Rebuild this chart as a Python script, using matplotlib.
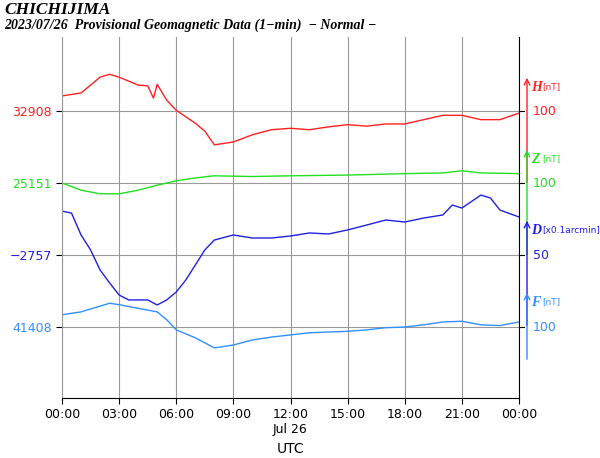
import matplotlib
matplotlib.use("Agg")
import matplotlib.pyplot as plt
import numpy as np

hours_H = [0,1,2,2.5,3,4,4.5,4.8,5,5.5,6,7,7.5,8,9,10,11,12,13,14,15,16,17,18,19,20,21,22,23,24]
H = [32929,32933,32955,32959,32955,32944,32943,32926,32945,32923,32909,32891,32880,32861,32865,32875,32882,32884,32882,32886,32889,32887,32890,32890,32896,32902,32902,32896,32896,32905]
hours_Z = [0,1,2,3,4,5,6,7,8,10,12,15,18,20,21,22,24]
Z = [25151,25141,25136,25136,25141,25148,25154,25158,25161,25160,25161,25162,25164,25165,25168,25165,25164]
hours_D = [0,0.5,1,1.5,2,2.5,3,3.5,4,4.5,5,5.5,6,6.5,7,7.5,8,9,10,11,12,13,14,15,16,17,18,19,20,20.5,21,22,22.5,23,24]
D = [-2726.5,-2727.9,-2743.1,-2753.5,-2767.4,-2776.4,-2784.8,-2788.2,-2788.2,-2788.2,-2791.7,-2788.2,-2782.7,-2774.4,-2764.0,-2753.5,-2746.6,-2743.1,-2745.2,-2745.2,-2743.8,-2741.7,-2742.4,-2739.6,-2736.2,-2732.7,-2734.1,-2731.3,-2729.2,-2722.3,-2724.4,-2715.4,-2717.4,-2725.8,-2730.6]
hours_F = [0,1,2,2.5,3,4,5,5.5,6,7,8,9,10,11,12,13,14,15,16,17,18,19,20,21,22,23,24]
F = [41425,41429,41437,41441,41439,41434,41429,41418,41404,41393,41379,41383,41390,41394,41397,41400,41401,41402,41404,41407,41408,41411,41415,41416,41411,41410,41415]

base_labels = ["32908", "25151", "\u22122757", "41408"]
bases = [32908, 25151, -2757, 41408]
scale_labels = ["100", "100", "50", "100"]
spans = [100, 100, 50, 100]
names = ["H", "Z", "D", "F"]
units = ["[nT]", "[nT]", "[x0.1arcmin]", "[nT]"]
colors = ["#ff2020", "#20e020", "#2020e0", "#3090ff"]
grid_y = [111, 183, 255, 327]
spacing = 72.0

fig = plt.figure(figsize=(6, 4.58), dpi=100)
ax = fig.add_axes([62/600, 60/458, 457/600, 361/458])
ax.set_xlim(0, 24)
ax.set_ylim(398, 37)

series = [(hours_H, H), (hours_Z, Z), (hours_D, D), (hours_F, F)]
for (hx, v), b, sp, gy, c in zip(series, bases, spans, grid_y, colors):
    y = gy - (np.array(v) - b) / sp * spacing
    ax.plot(hx, y, color=c, lw=1)

ax.set_yticks(grid_y)
ax.set_yticklabels(base_labels)
for t, c in zip(ax.get_yticklabels(), colors):
    t.set_color(c)
ax.set_xticks(range(0, 25, 3))
ax.set_xticklabels(["00:00", "03:00", "06:00", "09:00", "12:00\nJul 26", "15:00", "18:00", "21:00", "00:00"])
ax.tick_params(labelsize=9, length=4)
ax.grid(True, color="#999999", lw=0.8)
ax.set_xlabel("UTC", fontsize=10)
for s in ax.spines.values():
    s.set_color("black")
ax.spines["top"].set_visible(False)
ax.spines["left"].set_color("#999999")

trans = ax.get_yaxis_transform()
xa = 1 + 8/457
arrows = [(185, 75), (257, 147), (328, 218), (362, 290)]
for (y0, y1), gy, c, n, u, sl in zip(arrows, grid_y, colors, names, units, scale_labels):
    ax.annotate("", xy=(xa, y1), xytext=(xa, y0), xycoords=trans, textcoords=trans,
                arrowprops=dict(arrowstyle="->", color=c, lw=1), annotation_clip=False)
    ax.plot([1, 1 + 5/457], [gy, gy], color="black", lw=0.8, transform=trans, clip_on=False)
    ax.text(xa + 6/457, gy, sl, color=c, fontsize=9, va="center", ha="left", transform=trans)
    ax.text(xa + 4/457, y1 + 12, n, color=c, fontsize=10, fontstyle="italic", fontweight="bold",
            family="Liberation Serif", va="center", ha="left", transform=trans)
    ax.text(xa + 15/457, y1 + 12, u, color=c, fontsize=6.5, va="center", ha="left", transform=trans)

fig.text(4/600, 1 - 10/458, "CHICHIJIMA", fontsize=12.5, fontweight="bold", fontstyle="italic",
         family="Liberation Serif", va="center")
fig.text(4/600, 1 - 25/458, "2023/07/26  Provisional Geomagnetic Data (1\u2212min)  \u2212 Normal \u2212",
         fontsize=10, fontweight="bold", fontstyle="italic", family="Liberation Serif", va="center")
fig.savefig("out.png", dpi=100)
